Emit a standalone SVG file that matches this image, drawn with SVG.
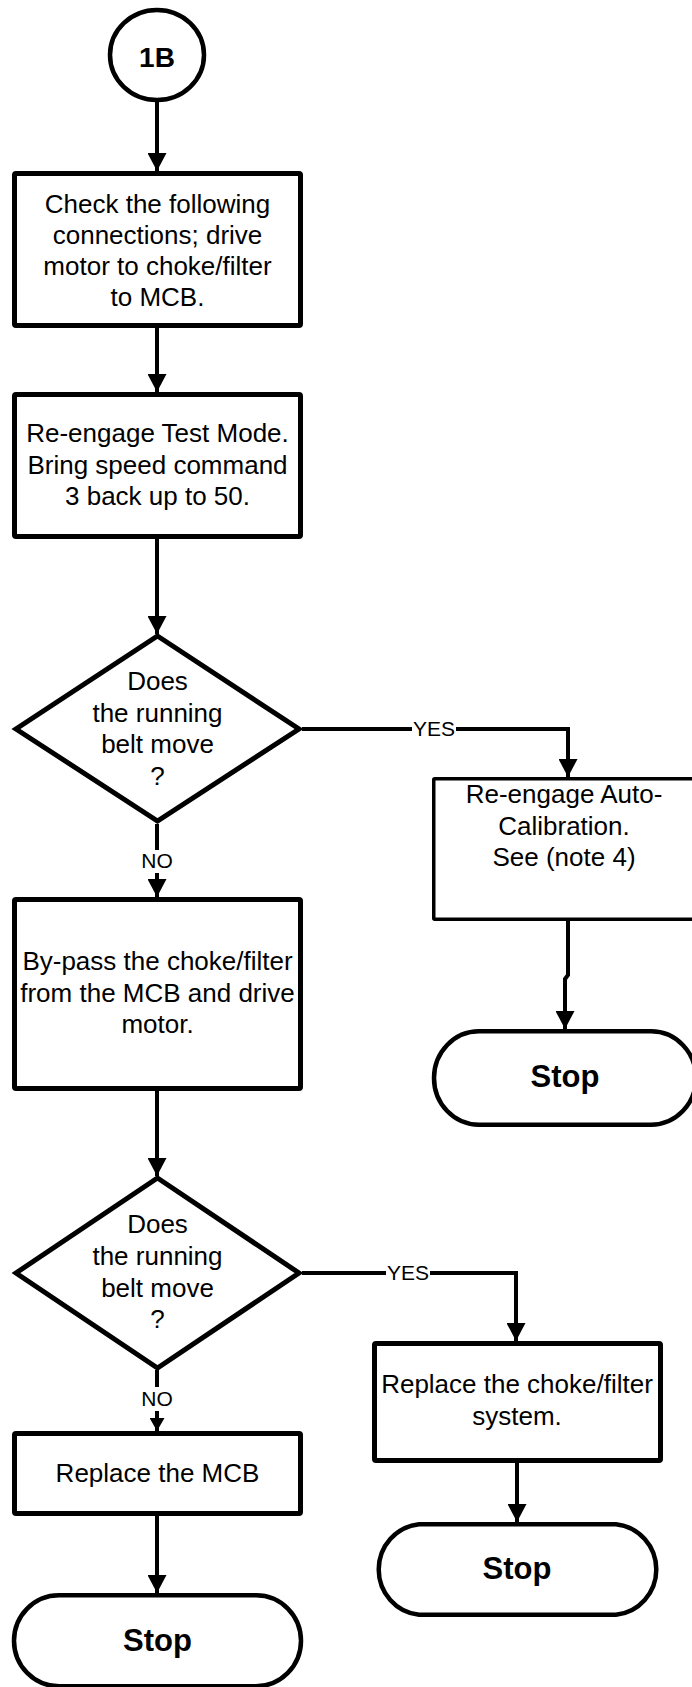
<svg xmlns="http://www.w3.org/2000/svg" width="692" height="1687" viewBox="0 0 692 1687">
<style>
.box{fill:#fff;stroke:#000;stroke-width:5;stroke-linejoin:round}
.thin{stroke-width:3.5}
.term{fill:#fff;stroke:#000;stroke-width:4.5}
.dia{fill:#fff;stroke:#000;stroke-width:5;stroke-linejoin:miter}
.t{font-family:"Liberation Sans",Arial,sans-serif;font-size:26px;text-anchor:middle;fill:#000}
.b{font-family:"Liberation Sans",Arial,sans-serif;font-size:31px;font-weight:bold;text-anchor:middle;fill:#000}
.lbl{font-family:"Liberation Sans",Arial,sans-serif;font-size:21px;text-anchor:middle;fill:#000}
.c{fill:none;stroke:#000;stroke-width:4}
</style>
<defs>
<marker id="arr" markerUnits="userSpaceOnUse" markerWidth="18" markerHeight="19" viewBox="0 0 18 19" refX="18" refY="9.5" orient="auto">
<path d="M0,0 L18,9.5 L0,19 Z" fill="#000"/>
</marker>
<marker id="arrs" markerUnits="userSpaceOnUse" markerWidth="13" markerHeight="15" viewBox="0 0 13 15" refX="13" refY="7.5" orient="auto">
<path d="M0,0 L13,7.5 L0,15 Z" fill="#000"/>
</marker>
</defs>

<g id="connectors">
<path class="c" d="M157,102 V171" marker-end="url(#arr)"/>
<path class="c" d="M157,328 V392" marker-end="url(#arr)"/>
<path class="c" d="M157,539 V634" marker-end="url(#arr)"/>
<path class="c" d="M302,729 H412"/>
<path class="c" d="M456,729 H568 V777" marker-end="url(#arr)"/>
<path class="c" d="M157,824 V850"/>
<path class="c" d="M157,873 V897" marker-end="url(#arr)"/>
<path class="c" d="M568,921 V975 L565,979 V1029" marker-end="url(#arr)"/>
<path class="c" d="M157,1091 V1176" marker-end="url(#arr)"/>
<path class="c" d="M302,1273 H386"/>
<path class="c" d="M430,1273 H516 V1341" marker-end="url(#arr)"/>
<path class="c" d="M157,1370 V1387"/>
<path class="c" d="M157,1411 V1431" marker-end="url(#arrs)"/>
<path class="c" d="M157,1516 V1593" marker-end="url(#arr)"/>
<path class="c" d="M517,1463 V1522" marker-end="url(#arr)"/>
<text class="lbl" x="434" y="736">YES</text>
<text class="lbl" x="157" y="868">NO</text>
<text class="lbl" x="408" y="1280">YES</text>
<text class="lbl" x="157" y="1406">NO</text>
</g>

<g id="start-1B">
<ellipse cx="157" cy="55" rx="47" ry="45" fill="#fff" stroke="#000" stroke-width="4.5"/>
<text class="b" x="157" y="67" style="font-size:28px">1B</text>
</g>

<g id="check-connections">
<rect class="box" x="14.5" y="173.5" width="286" height="152" rx="1.5"/>
<text class="t" x="157.5" y="213">Check the following</text>
<text class="t" x="157.5" y="244">connections; drive</text>
<text class="t" x="157.5" y="275">motor to choke/filter</text>
<text class="t" x="157.5" y="306">to MCB.</text>
</g>

<g id="re-engage-test">
<rect class="box" x="14.5" y="394.5" width="286" height="142" rx="1.5"/>
<text class="t" x="157.5" y="442">Re-engage Test Mode.</text>
<text class="t" x="157.5" y="474">Bring speed command</text>
<text class="t" x="157.5" y="505">3 back up to 50.</text>
</g>

<g id="decision-1">
<polygon class="dia" points="157.5,636 299,729 157.5,821 16,729"/>
<text class="t" x="157.5" y="690">Does</text>
<text class="t" x="157.5" y="722">the running</text>
<text class="t" x="157.5" y="753">belt move</text>
<text class="t" x="157.5" y="785">?</text>
</g>

<g id="re-engage-auto">
<rect class="box thin" x="433.75" y="778.75" width="262" height="140.5" rx="1"/>
<text class="t" x="564" y="803">Re-engage Auto-</text>
<text class="t" x="564" y="835">Calibration.</text>
<text class="t" x="564" y="866">See (note 4)</text>
</g>

<g id="stop-1">
<path class="term" d="M479,1031.25 H651 A45,46.75 0 0 1 651,1124.75 H479 A45,46.75 0 0 1 479,1031.25 Z"/>
<text class="b" x="565" y="1087">Stop</text>
</g>

<g id="bypass">
<rect class="box" x="14.5" y="899.5" width="286" height="189" rx="1.5"/>
<text class="t" x="157.5" y="970">By-pass the choke/filter</text>
<text class="t" x="157.5" y="1002">from the MCB and drive</text>
<text class="t" x="157.5" y="1033">motor.</text>
</g>

<g id="decision-2">
<polygon class="dia" points="157.5,1178 299,1273 157.5,1368 16,1273"/>
<text class="t" x="157.5" y="1233">Does</text>
<text class="t" x="157.5" y="1265">the running</text>
<text class="t" x="157.5" y="1297">belt move</text>
<text class="t" x="157.5" y="1328">?</text>
</g>

<g id="replace-choke">
<rect class="box" x="374.5" y="1343.5" width="286" height="117" rx="1.5"/>
<text class="t" x="517" y="1393">Replace the choke/filter</text>
<text class="t" x="517" y="1425">system.</text>
</g>

<g id="stop-2">
<path class="term" d="M419,1524.25 H616 A45,45.5 0 0 1 616,1614.75 H419 A45,45.5 0 0 1 419,1524.25 Z"/>
<text class="b" x="517" y="1579">Stop</text>
</g>

<g id="replace-mcb">
<rect class="box" x="14.5" y="1433.5" width="286" height="80" rx="1.5"/>
<text class="t" x="157.5" y="1482">Replace the MCB</text>
</g>

<g id="stop-3">
<path class="term" d="M59,1595.25 H256 A45,45.5 0 0 1 256,1686.25 H59 A45,45.5 0 0 1 59,1595.25 Z"/>
<text class="b" x="157.5" y="1651">Stop</text>
</g>
</svg>
